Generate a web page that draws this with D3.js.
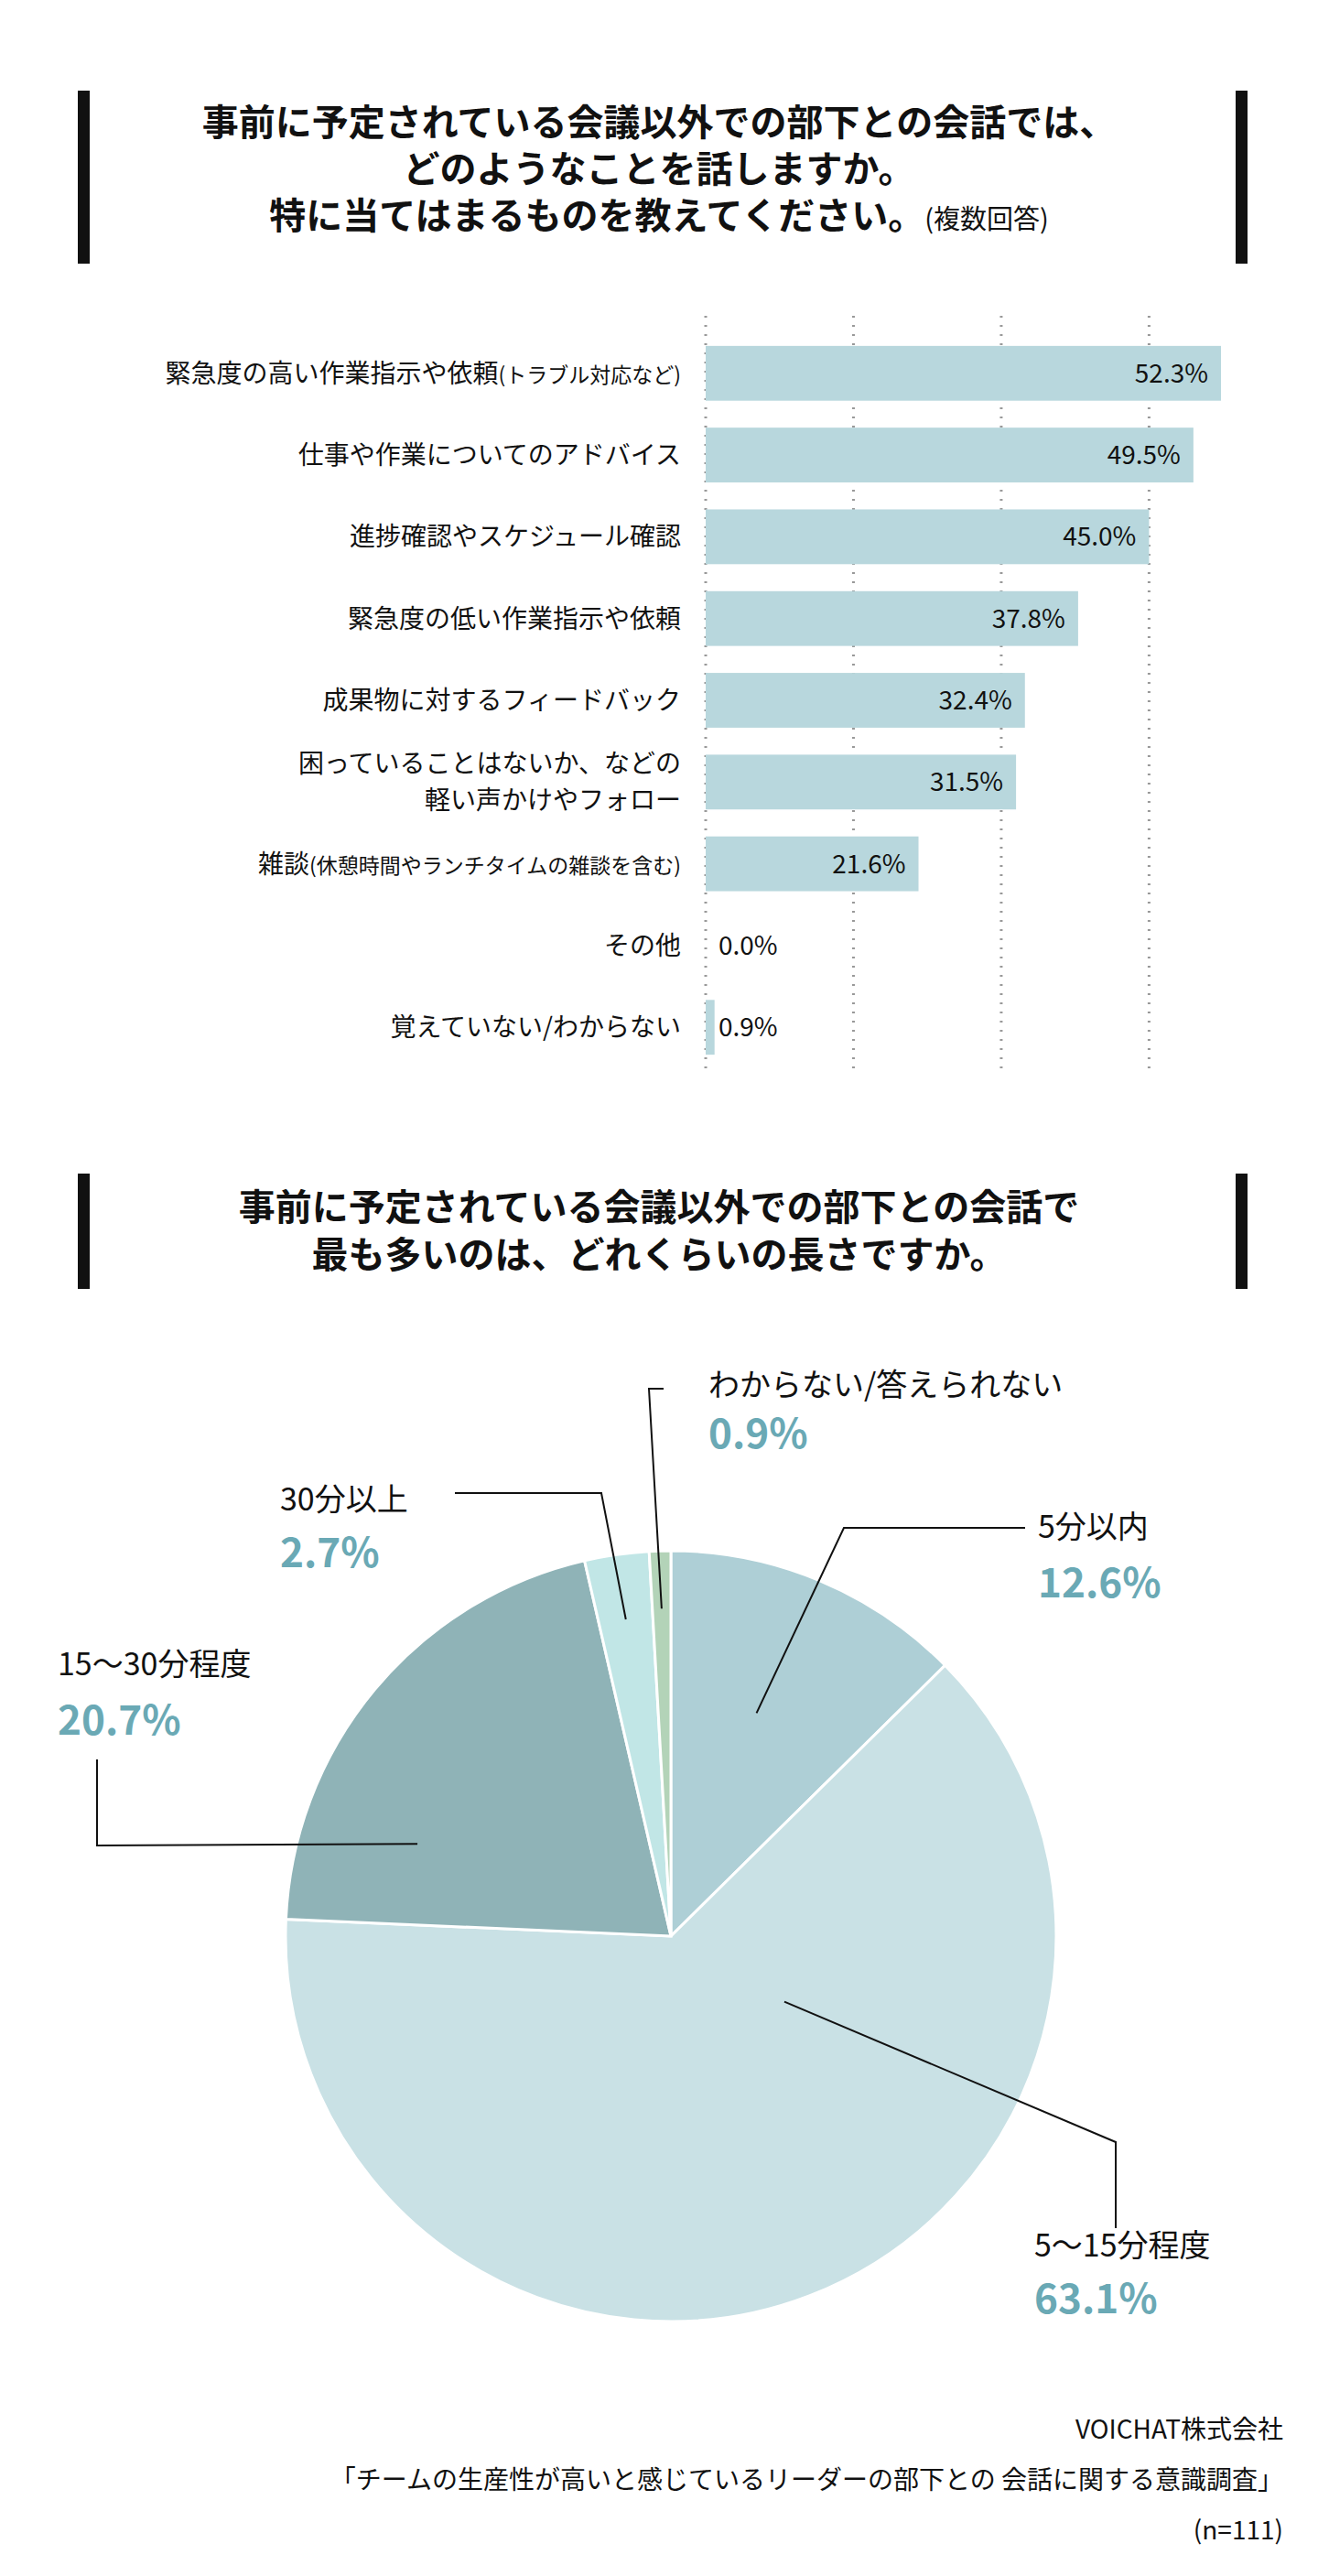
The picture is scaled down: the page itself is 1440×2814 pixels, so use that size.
<!DOCTYPE html>
<html><head><meta charset="utf-8">
<script src="https://cdn.jsdelivr.net/npm/d3@7"></script>
<style>body{margin:0;background:#fff}text{font-family:"Noto Sans CJK JP","Noto Sans",sans-serif}</style>
</head><body>
<svg id="c" width="1440" height="2814"></svg>
<script>
// bar chart data
var barLabels = [["緊急度の高い作業指示や依頼(トラブル対応など)"],["仕事や作業についてのアドバイス"],["進捗確認やスケジュール確認"],["緊急度の低い作業指示や依頼"],["成果物に対するフィードバック"],["困っていることはないか、などの","軽い声かけやフォロー"],["雑談(休憩時間やランチタイムの雑談を含む)"],["その他"],["覚えていない/わからない"]];
var barValues = [52.3,49.5,45.0,37.8,32.4,31.5,21.6,0.0,0.9];
var gridTicks = [0,15,30,45];

// pie data
var pieLabels = ["5分以内","5〜15分程度","15〜30分程度","30分以上","わからない/答えられない"];
var pieValues = [12.6,63.1,20.7,2.7,0.9];
var pieColors = ["#aecfd6","#c9e1e5","#8fb3b7","#c1e6e6","#b3d3b8"];

var svg = d3.select("#c");

function title(lines, y0, top, bottom, lh){
  svg.append("rect").attr("x",85).attr("y",top).attr("width",13).attr("height",bottom-top).attr("fill","#111");
  svg.append("rect").attr("x",1350).attr("y",top).attr("width",13).attr("height",bottom-top).attr("fill","#111");
  lines.forEach(function(l,i){
    var t = svg.append("text").attr("x",720).attr("y",y0+i*lh).attr("text-anchor","middle")
      .attr("font-size",40).attr("font-weight","bold").attr("fill","#111");
    t.append("tspan").text(l[0]);
    if(l[1]) t.append("tspan").attr("font-size",29).attr("font-weight","normal").text(l[1]);
  });
}
title([["事前に予定されている会議以外での部下との会話では、"],["どのようなことを話しますか。"],["特に当てはまるものを教えてください。","(複数回答)"]],148,99,288,51);

// bars
var x = d3.scaleLinear().domain([0,52.3]).range([771,1334]);
var y = d3.scaleBand().domain(d3.range(barValues.length)).range([360,1170]).paddingInner(0.33).paddingOuter(0.2);
svg.selectAll(".grid").data(gridTicks).enter().append("line")
  .attr("x1",d=>x(d)).attr("x2",d=>x(d)).attr("y1",345).attr("y2",1170)
  .attr("stroke","#999").attr("stroke-width",3).attr("stroke-dasharray","2,8");
svg.selectAll(".bar").data(barValues).enter().append("rect")
  .attr("x",x(0)).attr("y",(d,i)=>y(i)).attr("height",y.bandwidth())
  .attr("width",d=>x(d)-x(0)).attr("fill","#b8d7dd");
svg.selectAll(".val").data(barValues).enter().append("text")
  .attr("x",d=>d<5?x(0)+14:x(d)-14).attr("y",(d,i)=>y(i)+y.bandwidth()/2+10)
  .attr("text-anchor",d=>d<5?"start":"end").attr("font-size",28).attr("fill","#111")
  .text(d=>d.toFixed(1)+"%");
barLabels.forEach(function(l,i){
  var cy = y(i)+y.bandwidth()/2;
  l.forEach(function(s,j){
    var t = svg.append("text").attr("x",744).attr("y",cy+10+(j-(l.length-1)/2)*40)
      .attr("text-anchor","end").attr("font-size",28).attr("fill","#111");
    var m = s.match(/^([^(]*)(\(.*\))?$/);
    t.append("tspan").text(m[1]);
    if(m[2]) t.append("tspan").attr("font-size",23).text(m[2]);
  });
});

title([["事前に予定されている会議以外での部下との会話で"],["最も多いのは、どれくらいの長さですか。"]],1333,1282,1408,52);

// pie
var cx = 733, cy = 2115, r = 421;
var pie = d3.pie().sort(null)(pieValues);
var arc = d3.arc().innerRadius(0).outerRadius(r);
var g = svg.append("g").attr("transform","translate("+cx+","+cy+")");
g.selectAll("path").data(pie).enter().append("path").attr("d",arc)
  .attr("fill",(d,i)=>pieColors[i]).attr("stroke","#fff").attr("stroke-width",3);

// label layout: name x, name y, pct y, leader start (angle deg, radius share), leader bends
var lab = [
  {tx:1134,ny:1680,py:1745,a:21,r:0.62,pts:[[922,1669],[1120,1669]]},
  {tx:1130,ny:2465,py:2527,a:120,r:0.34,pts:[[1219,2340],[1219,2434]]},
  {tx:63,ny:1830,py:1895,a:290,r:0.70,pts:[[106,2016],[106,1922]]},
  {tx:306,ny:1650,py:1712,a:null,r:0.83,pts:[[657,1631],[497,1631]]},
  {tx:774,ny:1525,py:1582,a:null,r:0.85,pts:[[709,1517],[725,1517]]}
];
var line = d3.line();
pie.forEach(function(d,i){
  var L = lab[i];
  var a = L.a==null ? (d.startAngle+d.endAngle)/2 : L.a*Math.PI/180;
  var p0 = [cx+Math.sin(a)*r*L.r, cy-Math.cos(a)*r*L.r];
  svg.append("path").attr("d",line([p0].concat(L.pts))).attr("fill","none").attr("stroke","#111").attr("stroke-width",2);
  svg.append("text").attr("x",L.tx).attr("y",L.ny).attr("font-size",34).attr("fill","#111").text(pieLabels[i]);
  svg.append("text").attr("x",L.tx).attr("y",L.py).attr("font-size",44).attr("font-weight","bold").attr("fill","#6aa9b5").text(pieValues[i].toFixed(1)+"%");
});

// source
["VOICHAT株式会社","「チームの生産性が高いと感じているリーダーの部下との 会話に関する意識調査」","(n=111)"].forEach(function(s,i){
  svg.append("text").attr("x",1402).attr("y",2664+i*55).attr("text-anchor","end").attr("font-size",28).attr("fill","#111").text(s);
});
</script>
</body></html>
